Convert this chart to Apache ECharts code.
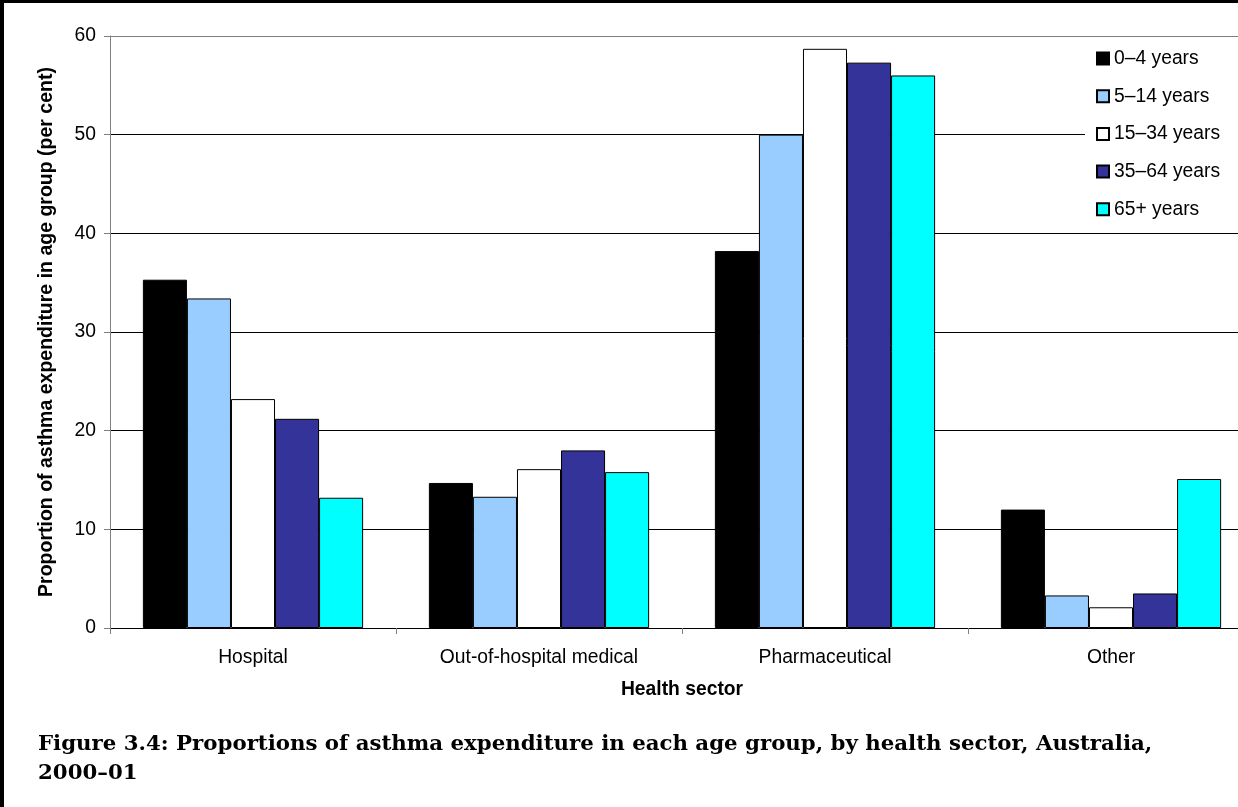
<!DOCTYPE html>
<html>
<head>
<meta charset="utf-8">
<script src="https://cdn.jsdelivr.net/npm/echarts@6/dist/echarts.min.js"></script>
<style>
html,body{margin:0;padding:0;background:#fff;overflow:hidden;}
#chart{width:1270px;height:807px;}
</style>
</head>
<body>
<div id="chart"></div>
<script>
const categories = ['Hospital', 'Out-of-hospital medical', 'Pharmaceutical', 'Other'];
const seriesNames = ['0–4 years', '5–14 years', '15–34 years', '35–64 years', '65+ years'];
const age0to4   = [35.3, 14.7, 38.2, 12.0];
const age5to14  = [33.4, 13.3, 50.0, 3.3];
const age15to34 = [23.2, 16.1, 58.7, 2.1];
const age35to64 = [21.2, 18.0, 57.3, 3.5];
const age65plus = [13.2, 15.8, 56.0, 15.1];
const yTicks = [0, 10, 20, 30, 40, 50, 60];
const colors = ['#000000', '#99CCFF', '#FFFFFF', '#333399', '#00FFFF'];
const captionLines = ['Figure 3.4: Proportions of asthma expenditure in each age group, by health sector, Australia,', '2000–01'];

const allValues = [age0to4, age5to14, age15to34, age35to64, age65plus];
const sans = 'Liberation Sans, Arial, sans-serif';
const fs = 19.3;

const chart = echarts.init(document.getElementById('chart'), null, {renderer: 'canvas'});
const option = {
  animation: false,
  backgroundColor: '#fff',
  grid: {left: 110, top: 36, width: 1144, height: 592, containLabel: false},
  legend: {
    orient: 'vertical',
    left: 1085,
    top: 42,
    padding: [7, 40, 7, 11],
    backgroundColor: '#fff',
    itemWidth: 12,
    itemHeight: 12,
    itemGap: 18.7,
    icon: 'rect',
    textStyle: {fontFamily: sans, fontSize: fs, color: '#000'},
    data: seriesNames
  },
  xAxis: {
    type: 'category',
    data: categories,
    axisLine: {lineStyle: {color: '#000', width: 1}},
    axisTick: {show: true, length: 6, lineStyle: {color: '#808080'}},
    axisLabel: {fontFamily: sans, fontSize: fs, color: '#000', margin: 20},
    name: 'Health sector',
    nameLocation: 'middle',
    nameGap: 52,
    nameTextStyle: {fontFamily: sans, fontSize: fs, fontWeight: 'bold', color: '#000'}
  },
  yAxis: {
    type: 'value',
    min: yTicks[0],
    max: yTicks[yTicks.length - 1],
    interval: yTicks[1] - yTicks[0],
    axisLine: {show: true, lineStyle: {color: '#808080'}},
    axisTick: {show: true, length: 6, lineStyle: {color: '#808080'}},
    axisLabel: {fontFamily: sans, fontSize: fs, color: '#000', margin: 14},
    splitLine: {show: true, lineStyle: {color: ['#000', '#000', '#000', '#000', '#000', '#000', '#808080'], width: 1}},
    name: 'Proportion of asthma expenditure in age group (per cent)',
    nameLocation: 'middle',
    nameGap: 53,
    nameTextStyle: {fontFamily: sans, fontSize: 19.5, fontWeight: 'bold', color: '#000'}
  },
  series: seriesNames.map((name, i) => ({
    name: name,
    type: 'bar',
    data: allValues[i],
    barGap: '0%',
    barCategoryGap: '23%',
    itemStyle: {color: colors[i], borderColor: '#000', borderWidth: 1}
  })),
  graphic: [
    {type: 'rect', left: 0, top: 0, shape: {width: 4, height: 807}, style: {fill: '#000'}, z: 100},
    {type: 'rect', left: 0, top: 0, shape: {width: 1270, height: 3}, style: {fill: '#000'}, z: 100},
    {type: 'text', left: 38, top: 734, style: {text: captionLines[0], font: 'bold 21.3px "DejaVu Serif", serif', fill: '#000'}},
    {type: 'text', left: 38, top: 763, style: {text: captionLines[1], font: 'bold 21.3px "DejaVu Serif", serif', fill: '#000'}}
  ]
};
chart.setOption(option);
</script>
</body>
</html>
